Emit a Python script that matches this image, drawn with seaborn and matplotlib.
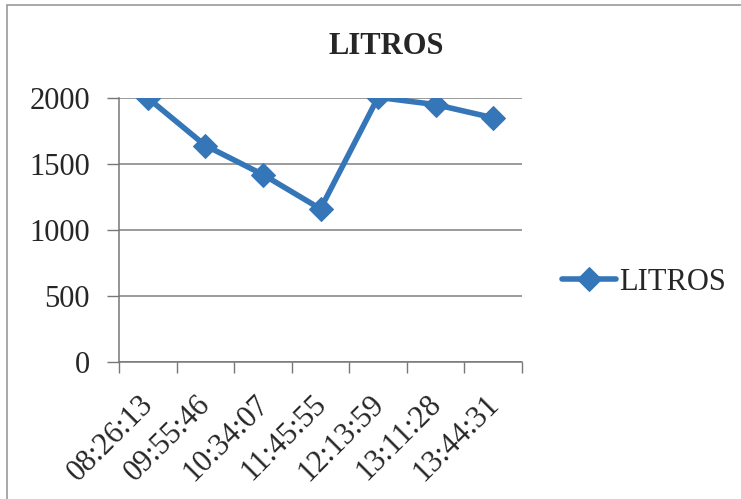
import matplotlib.pyplot as plt
import matplotlib.patches as patches
from matplotlib.ticker import FixedLocator
from matplotlib.transforms import ScaledTranslation
import seaborn as sns

horas = ["08:26:13", "09:55:46", "10:34:07", "11:45:55", "12:13:59", "13:11:28", "13:44:31"]
litros = [2000, 1640, 1420, 1160, 2005, 1950, 1850]
y_ticks = [0, 500, 1000, 1500, 2000]

sns.set_style("white")
plt.rcParams['font.family'] = ['Liberation Serif', 'DejaVu Serif']

fig = plt.figure(figsize=(7.41, 4.99), dpi=100)
ax = fig.add_axes([119 / 741, 1 - 362 / 499, (522 - 119) / 741, (362 - 98) / 499])

# chart border (Excel style frame)
fig.patches.append(patches.Rectangle((7 / 741, -0.1), 1.0, 1 - 5 / 499 + 0.1,
                                     transform=fig.transFigure, fill=False,
                                     edgecolor='#999999', linewidth=1.2))

color = '#3476b8'
sns.lineplot(x=list(range(len(horas))), y=litros, ax=ax, color=color, linewidth=4,
             marker='D', markersize=12, markeredgecolor=color, label='LITROS')

ax.set_xlim(-0.5, len(horas) - 0.5)
ax.set_ylim(0, 2000)
ax.set_yticks(y_ticks)
ax.set_xticks(range(len(horas)))
ax.set_xticklabels(horas, rotation=45, ha='right', rotation_mode='anchor')
ax.xaxis.set_minor_locator(FixedLocator([i - 0.5 for i in range(len(horas) + 1)]))
ax.tick_params(axis='x', which='major', length=0, pad=20, labelsize=22)
ax.tick_params(axis='x', which='minor', length=8, width=1, color='#777777', bottom=True)
ax.tick_params(axis='y', which='major', length=9, width=1, color='#777777', left=True,
               labelsize=22, pad=12)
offset = ScaledTranslation(-0.09, 0.0, fig.dpi_scale_trans)
for lbl in ax.get_xticklabels():
    lbl.set_transform(lbl.get_transform() + offset)
ax.grid(axis='y', color='#808080', linewidth=1.1)
ax.grid(axis='x', visible=False)
for side in ['top', 'right']:
    ax.spines[side].set_visible(False)
for side in ['left', 'bottom']:
    ax.spines[side].set_color('#777777')
    ax.spines[side].set_linewidth(1.1)

fig.text(386 / 741, 1 - 47 / 499, 'LITROS', ha='center', va='center',
         fontsize=22, fontweight='bold')

ax.legend(loc='center left', bbox_to_anchor=(550 / 741, 1 - 282 / 499),
          bbox_transform=fig.transFigure, frameon=False, fontsize=22,
          handlelength=1.75, handletextpad=0.12, borderaxespad=0)

fig.savefig('out.png', dpi=100)
